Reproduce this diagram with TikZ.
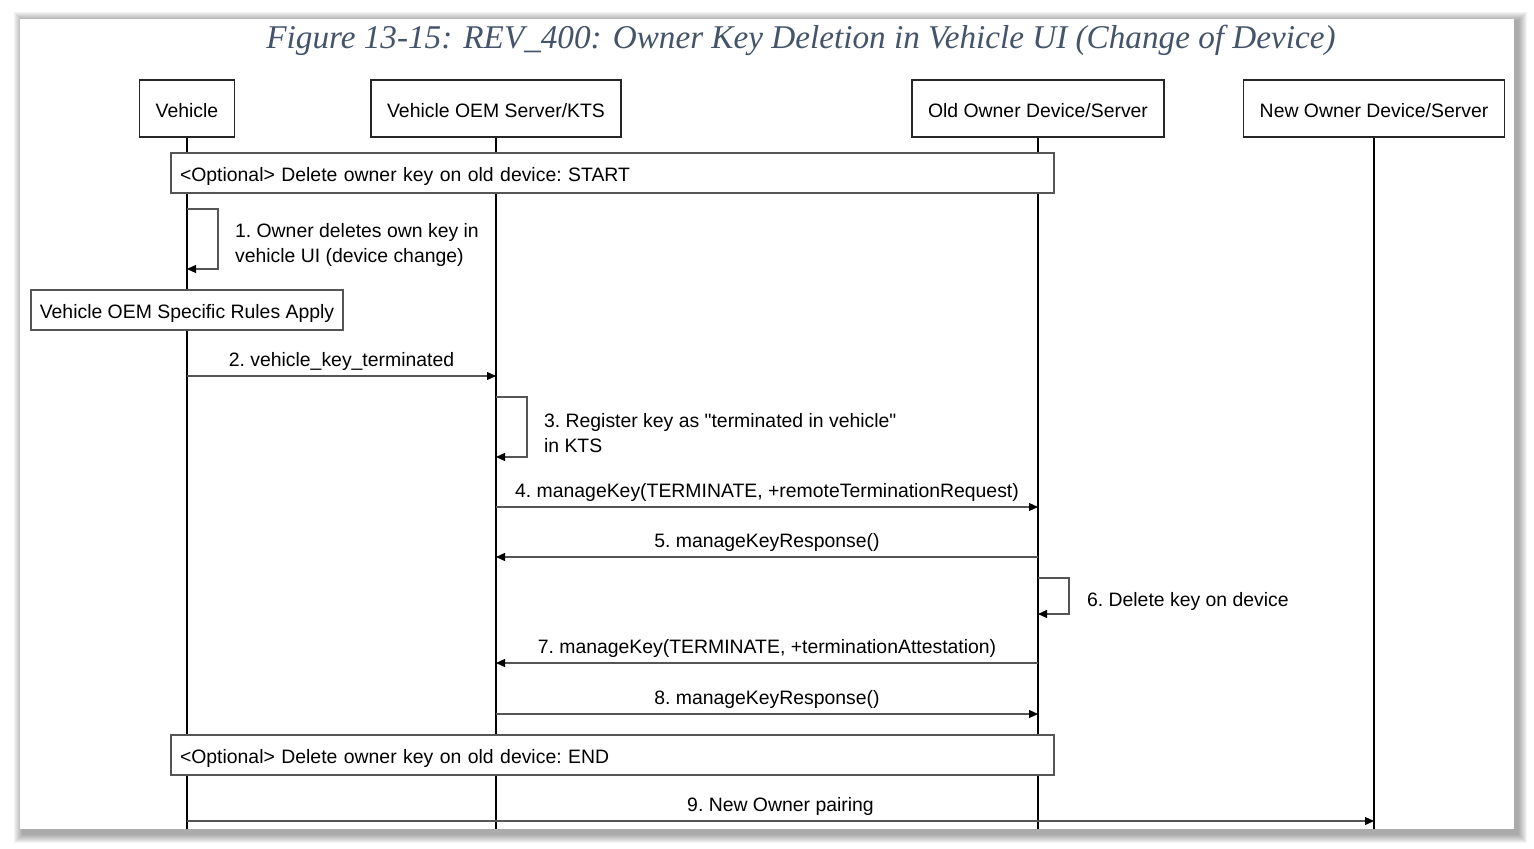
\documentclass[tikz,border=0pt]{standalone}
\usepackage{fontspec}
\setmainfont{Liberation Sans}
\newfontfamily\titlefont{Liberation Serif}
\usetikzlibrary{arrows.meta}
\definecolor{titleblue}{HTML}{44546A}
\definecolor{edge}{HTML}{555555}

\begin{document}
\begin{tikzpicture}[x=0.5pt, y=-0.5pt,
    font=\fontsize{9.7}{12.5}\selectfont\frenchspacing,
    actor/.style = {draw=black!85, line width=0.7pt, fill=white, inner xsep=8pt, minimum height=28.5pt, text height=8.6pt, text depth=0pt},
    frag/.style = {draw=edge, line width=0.6pt, fill=white, minimum height=20pt, inner xsep=4.5pt, text width=432.5pt, align=left, text height=8.6pt, text depth=0pt},
    rules/.style = {draw=edge, line width=0.6pt, fill=white, minimum height=20pt, minimum width=156pt, text height=8.6pt, text depth=0pt},
    lifeline/.style = {black, line width=0.75pt},
    msg/.style = {edge, line width=0.6pt, -{Triangle[length=4.5pt, width=4pt, color=black]}},
    msglabel/.style = {above, inner sep=2.5pt, text=black},
    loopnote/.style = {anchor=west, align=left}]
    \useasboundingbox (0,0) rectangle (1534,849);

    % page and its shadow
    \foreach \i in {1,...,9}
        \fill[black, opacity=0.045] (20-\i+3,19-\i+2) rectangle (1514+\i+4,829+\i+5);
    \fill[white] (20,19) rectangle (1514,829);

    \node[font=\titlefont\itshape\fontsize{16.6}{20}\selectfont, text=titleblue, anchor=base] (title) at (801,49)
        {Figure 13-15: REV\_400: Owner Key Deletion in Vehicle UI (Change of Device)};

    % participants
    \node[actor] (veh) at (187,108.5) {Vehicle};
    \node[actor] (kts) at (496,108.5) {Vehicle OEM Server/KTS};
    \node[actor] (old) at (1038,108.5) {Old Owner Device/Server};
    \node[actor] (new) at (1374,108.5) {New Owner Device/Server};

    \coordinate (bottom) at (0,829);
    \draw[lifeline] (veh) -- (veh |- bottom)
        (kts) -- (kts |- bottom)
        (old) -- (old |- bottom)
        (new) -- (new |- bottom);

    \node[frag] (optstart) at (612.5,173) {<Optional> Delete owner key on old device: START};

    % 1
    \coordinate (s1) at (0,209);
    \draw[msg] (veh |- s1) -- ++(31,0) -- ++(0,60) -- ++(-31,0);
    \node[loopnote] (l1) at (228,245) {1. Owner deletes own key in\\vehicle UI (device change)};

    \node[rules] (oemrules) at (187,310) {Vehicle OEM Specific Rules Apply};

    % 2
    \coordinate (m2) at (0,376);
    \draw[msg] (veh |- m2) -- node[msglabel] (l2) {2. vehicle\_key\_terminated} (kts |- m2);

    % 3
    \coordinate (s3) at (0,397);
    \draw[msg] (kts |- s3) -- ++(31,0) -- ++(0,60) -- ++(-31,0);
    \node[loopnote] (l3) at (537,433) {3. Register key as \textquotedbl terminated in vehicle\textquotedbl\\in KTS};

    % 4 and 5
    \coordinate (m4) at (0,507);
    \draw[msg] (kts |- m4) -- node[msglabel] (l4) {4. manageKey(TERMINATE, +remoteTerminationRequest)} (old |- m4);
    \coordinate (m5) at (0,557);
    \draw[msg] (old |- m5) -- node[msglabel] (l5) {5. manageKeyResponse()} (kts |- m5);

    % 6
    \coordinate (s6) at (0,578);
    \draw[msg] (old |- s6) -- ++(31,0) -- ++(0,36) -- ++(-31,0);
    \node[loopnote] (l6) at (1080,601) {6. Delete key on device};

    % 7 and 8
    \coordinate (m7) at (0,663);
    \draw[msg] (old |- m7) -- node[msglabel] (l7) {7. manageKey(TERMINATE, +terminationAttestation)} (kts |- m7);
    \coordinate (m8) at (0,714);
    \draw[msg] (kts |- m8) -- node[msglabel] (l8) {8. manageKeyResponse()} (old |- m8);

    \node[frag] (optend) at (612.5,755) {<Optional> Delete owner key on old device: END};

    % 9
    \coordinate (m9) at (0,821);
    \draw[msg] (veh |- m9) -- node[msglabel] (l9) {9. New Owner pairing} (new |- m9);
\end{tikzpicture}
\end{document}
